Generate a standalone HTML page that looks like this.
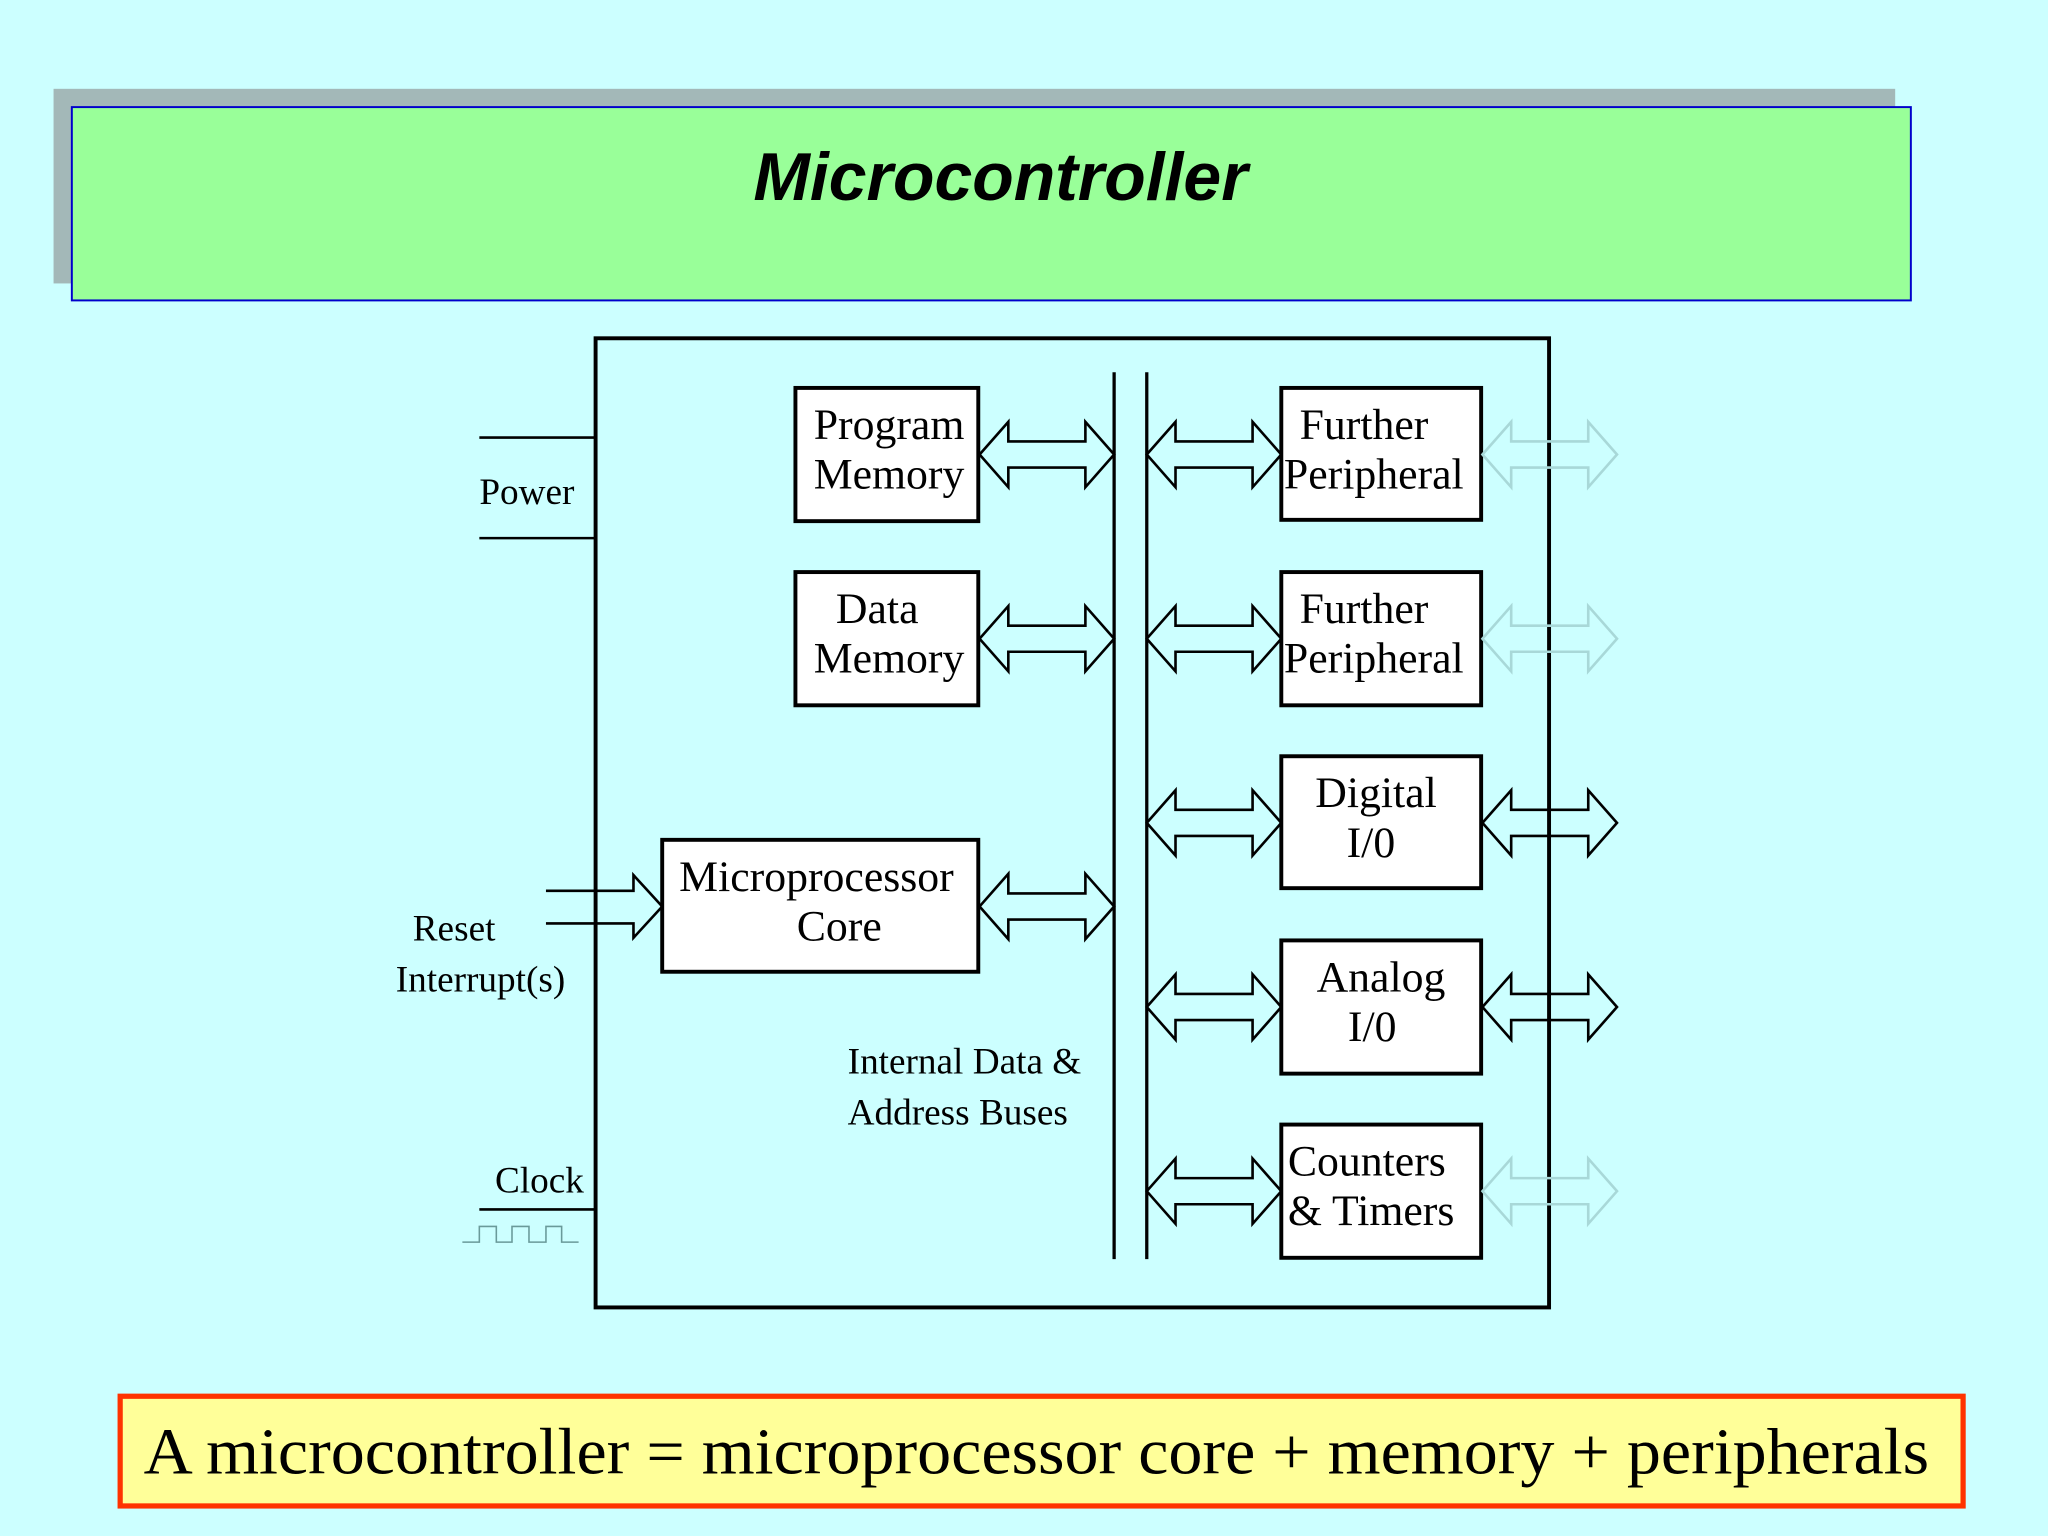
<!DOCTYPE html>
<html><head><meta charset="utf-8"><style>
html,body{margin:0;padding:0;background:#ccffff;}
svg{display:block}
text{font-family:"Liberation Serif",serif;fill:#000}
</style></head><body>
<svg width="2048" height="1536" viewBox="0 0 1568 1176" xmlns="http://www.w3.org/2000/svg">
<rect width="1568" height="1176" fill="#ccffff"/>
<rect x="41" y="68" width="1410" height="149" fill="#a3b8b8"/>
<rect x="55" y="82" width="1408" height="148" fill="#99ff99" stroke="#0000cc" stroke-width="1.5"/>
<text x="766" y="153" text-anchor="middle" style="font-family:'Liberation Sans',sans-serif;font-weight:bold;font-style:italic;font-size:52px">Microcontroller</text>

<rect x="456" y="259" width="730" height="742" fill="none" stroke="#000" stroke-width="3"/>
<line x1="853" y1="285" x2="853" y2="964" stroke="#000" stroke-width="2.5"/>
<line x1="878" y1="285" x2="878" y2="964" stroke="#000" stroke-width="2.5"/>

<g fill="#fff" stroke="#000" stroke-width="3">
<rect x="609" y="297" width="140" height="102"/>
<rect x="609" y="438" width="140" height="102"/>
<rect x="507" y="643" width="242" height="101"/>
<rect x="981" y="297" width="153" height="101"/>
<rect x="981" y="438" width="153" height="102"/>
<rect x="981" y="579" width="153" height="101"/>
<rect x="981" y="720" width="153" height="102"/>
<rect x="981" y="861" width="153" height="102"/>
</g>

<g font-size="33.5">
<text x="623" y="336">Program</text><text x="623" y="374">Memory</text>
<text x="640" y="477">Data</text><text x="623" y="515">Memory</text>
<text x="520" y="682">Microprocessor</text><text x="610" y="720">Core</text>
<text x="995" y="336">Further</text><text x="983" y="374">Peripheral</text>
<text x="995" y="477">Further</text><text x="983" y="515">Peripheral</text>
<text x="1007" y="618">Digital</text><text x="1031" y="656">I/0</text>
<text x="1008" y="759">Analog</text><text x="1032" y="797">I/0</text>
<text x="986" y="900">Counters</text><text x="986" y="938">&amp; Timers</text>
</g>

<defs>
<path id="da" d="M0,0 L22,-25 L22,-10 L81,-10 L81,-25 L103,0 L81,25 L81,10 L22,10 L22,25 Z" fill="none" stroke-width="2"/>
</defs>
<g stroke="#000">
<use href="#da" transform="translate(750,348)"/>
<use href="#da" transform="translate(750,489)"/>
<use href="#da" transform="translate(750,694)"/>
<use href="#da" transform="translate(878,348)"/>
<use href="#da" transform="translate(878,489)"/>
<use href="#da" transform="translate(878,630)"/>
<use href="#da" transform="translate(878,771)"/>
<use href="#da" transform="translate(878,912)"/>
<use href="#da" transform="translate(1135,630)"/>
<use href="#da" transform="translate(1135,771)"/>
</g>
<g stroke="#a8d8d8">
<use href="#da" transform="translate(1135,348)"/>
<use href="#da" transform="translate(1135,489)"/>
<use href="#da" transform="translate(1135,912)"/>
</g>

<g stroke="#000" stroke-width="2" fill="none">
<line x1="367" y1="335" x2="456" y2="335"/>
<line x1="367" y1="412" x2="456" y2="412"/>
<path d="M418,682 L485,682 L485,670 L507,694 L485,718 L485,707 L418,707"/>
<line x1="367" y1="926" x2="456" y2="926"/>
</g>
<path d="M354,951 L367,951 L367,939 L380,939 L380,951 L392,951 L392,939 L405,939 L405,951 L418,951 L418,939 L430,939 L430,951 L443,951" fill="none" stroke="#6a9a9a" stroke-width="1.2"/>

<g font-size="28.5">
<text x="367" y="386">Power</text>
<text x="316" y="720">Reset</text>
<text x="303" y="759">Interrupt(s)</text>
<text x="379" y="913">Clock</text>
<text x="649" y="822">Internal Data &amp;</text>
<text x="649" y="861">Address Buses</text>
</g>

<rect x="92" y="1069" width="1411" height="84" fill="#ffff99" stroke="#ff3300" stroke-width="4"/>
<text x="110" y="1128" font-size="50" textLength="1367" lengthAdjust="spacingAndGlyphs">A microcontroller = microprocessor core + memory + peripherals</text>
</svg>
</body></html>
